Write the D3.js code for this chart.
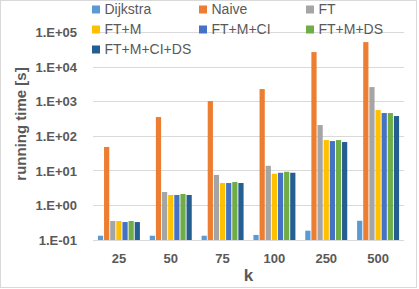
<!DOCTYPE html>
<html><head><meta charset="utf-8">
<script src="https://cdn.jsdelivr.net/npm/d3@7"></script>
<style>body{margin:0;background:#fff;}svg{display:block;}</style>
</head><body>
<svg id="c" width="419" height="289"></svg>
<script>
const categories = ["25","50","75","100","250","500"];
const seriesNames = ["Dijkstra","Naive","FT","FT+M","FT+M+CI","FT+M+DS","FT+M+CI+DS"];
const dijkstra = [0.133,0.133,0.133,0.14,0.186,0.36];
const naive = [49,359,1040,2312,27160,52800];
const ft = [0.354,2.44,7.6,14,211,2640];
const ftm = [0.354,2.0,4.44,8.24,77.6,572];
const ftmci = [0.33,2.0,4.44,8.8,72.6,469];
const ftmds = [0.354,2.14,4.75,9.4,77.6,469];
const ftmcids = [0.33,2.0,4.44,8.8,68,384];
const tickValues = [0.1,1,10,100,1000,10000,100000];
const tickLabels = ["1.E-01","1.E+00","1.E+01","1.E+02","1.E+03","1.E+04","1.E+05"];
const colors = ["#5B9BD5","#ED7D31","#A5A5A5","#FFC000","#4472C4","#70AD47","#255E91"];
const seriesVals = [dijkstra,naive,ft,ftm,ftmci,ftmds,ftmcids];

(function(){
const svg = d3.select("#c");
const font = "'Liberation Sans', Arial, sans-serif";
const txt = "#595959";
svg.append("rect").attr("x",0.5).attr("y",0.5).attr("width",416).attr("height",287)
  .attr("fill","#fff").attr("stroke","#d9d9d9");

const pLeft=93, pRight=404, pTop=32.5, pBottom=240;
const x = d3.scaleBand().domain(categories).range([pLeft,pRight]).paddingInner(0.19).paddingOuter(0.095);
const xi = d3.scaleBand().domain(seriesNames).range([0,x.bandwidth()]).paddingInner(0.15);
const y = d3.scaleLog().domain([0.1,100000]).range([pBottom,pTop]);

svg.append("g").selectAll("line").data(tickValues).join("line")
  .attr("x1",pLeft).attr("x2",pRight).attr("y1",d=>y(d)).attr("y2",d=>y(d))
  .attr("stroke","#d9d9d9").attr("stroke-width",1).attr("shape-rendering","crispEdges");

const g = svg.append("g");
seriesNames.forEach((s,si)=>{
  g.append("g").selectAll("rect").data(seriesVals[si]).join("rect")
   .attr("x",(d,i)=>x(categories[i])+xi(s))
   .attr("width",xi.bandwidth())
   .attr("y",d=>y(d)).attr("height",d=>pBottom-y(d))
   .attr("fill",colors[si]);
});

const yAxis = d3.axisLeft(y).tickValues(tickValues).tickFormat((d,i)=>tickLabels[i]).tickSize(0).tickPadding(0);
const ya = svg.append("g").attr("transform",`translate(${pLeft-16},0)`).call(yAxis);
ya.select(".domain").remove();
ya.selectAll("text").attr("font-family",font).attr("font-size",13).attr("font-weight","bold").attr("fill",txt);

const xAxis = d3.axisBottom(x).tickSize(0).tickPadding(0);
const xa = svg.append("g").attr("transform",`translate(0,${pBottom+14})`).call(xAxis);
xa.select(".domain").remove();
xa.selectAll("text").attr("font-family",font).attr("font-size",13).attr("font-weight","bold").attr("fill",txt);

svg.append("line").attr("x1",pLeft).attr("x2",pRight).attr("y1",pBottom).attr("y2",pBottom)
  .attr("stroke","#d9d9d9").attr("shape-rendering","crispEdges");

svg.append("text").attr("x",(pLeft+pRight)/2).attr("y",281).attr("text-anchor","middle")
  .attr("font-family",font).attr("font-size",17).attr("font-weight","bold").attr("fill",txt).text("k");
svg.append("text").attr("transform","translate(26,124) rotate(-90)").attr("text-anchor","middle")
  .attr("font-family",font).attr("font-size",15).attr("font-weight","bold").attr("fill",txt).text("running time [s]");

const colX=[92,199,306], rowY=[9.5,29.5,49.5];
const leg = svg.append("g");
seriesNames.forEach((s,i)=>{
  const cx=colX[i%3], cy=rowY[Math.floor(i/3)];
  leg.append("rect").attr("x",cx).attr("y",cy-4).attr("width",8).attr("height",8).attr("fill",colors[i]);
  leg.append("text").attr("x",cx+12.5).attr("y",cy).attr("dy","0.35em")
    .attr("font-family",font).attr("font-size",14).attr("fill",txt).text(s);
});
})();
</script>
</body></html>
